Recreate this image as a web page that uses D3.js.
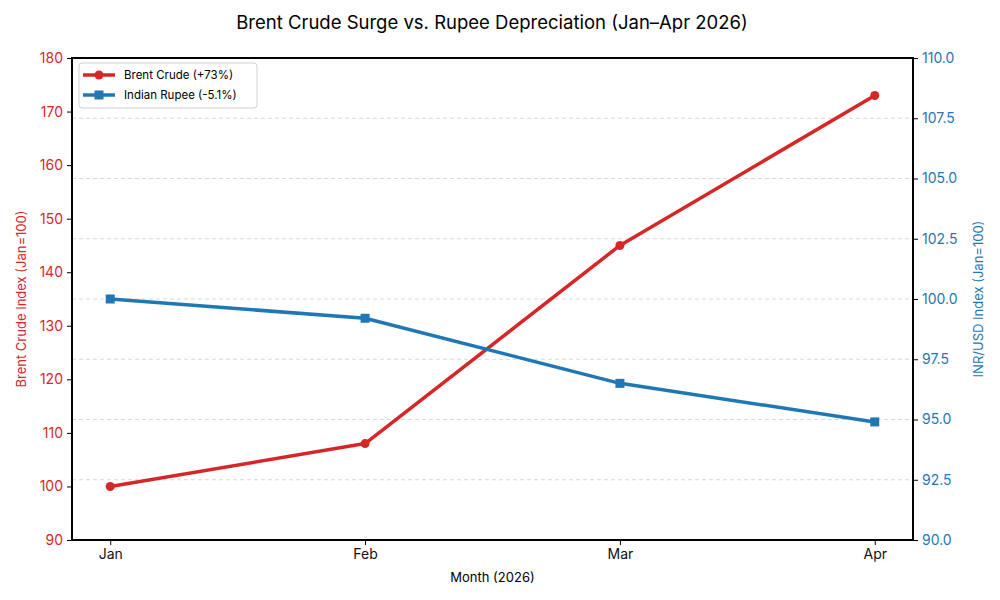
<!DOCTYPE html>
<html>
<head>
<meta charset="utf-8">
<script src="https://cdn.jsdelivr.net/npm/d3@7"></script>
<style>
	body { margin: 0; background: #fff; }
	text { font-family: Inter, 'Open Sans', sans-serif; }
</style>
</head>
<body>
<div id="chart"></div>
<script>
var months = ['Jan', 'Feb', 'Mar', 'Apr'];
var brentValues = [100, 108, 145, 173];
var rupeeValues = [100, 99.2, 96.5, 94.9];
var leftTicks = [90, 100, 110, 120, 130, 140, 150, 160, 170, 180];
var rightTicks = [90, 92.5, 95, 97.5, 100, 102.5, 105, 107.5, 110];
var seriesNames = ['Brent Crude (+73%)', 'Indian Rupee (-5.1%)'];

var width = 1000;
var height = 600;
var margin = { top: 58, right: 87, bottom: 60, left: 72 };
var red = '#d62728';
var blue = '#1f77b4';

var svg = d3.select('#chart')
	.append('svg')
	.attr('width', width)
	.attr('height', height);

var plotW = width - margin.left - margin.right;
var plotH = height - margin.top - margin.bottom;

var xScale = d3.scaleLinear()
	.domain([-0.15, months.length - 1 + 0.15])
	.range([margin.left, margin.left + plotW]);
var yLeft = d3.scaleLinear()
	.domain([90, 180])
	.range([margin.top + plotH, margin.top]);
var yRight = d3.scaleLinear()
	.domain([90, 110])
	.range([margin.top + plotH, margin.top]);

// grid lines follow the right axis ticks
svg.append('g').classed('grid', true)
	.selectAll('line')
	.data(rightTicks.slice(1, -1))
	.enter().append('line')
	.attr('x1', margin.left)
	.attr('x2', margin.left + plotW)
	.attr('y1', function(d) { return yRight(d); })
	.attr('y2', function(d) { return yRight(d); })
	.attr('stroke', '#cfcfcf')
	.attr('stroke-width', 0.8)
	.attr('stroke-dasharray', '4,3');

// axes
var xAxis = svg.append('g')
	.attr('transform', 'translate(0,' + (margin.top + plotH) + ')')
	.call(d3.axisBottom(xScale)
		.tickValues(d3.range(months.length))
		.tickFormat(function(d) { return months[d]; })
		.tickSizeOuter(0)
		.tickSize(5)
		.tickPadding(4));
xAxis.selectAll('text').attr('font-size', 14).attr('fill', '#111');

var leftAxis = svg.append('g')
	.attr('transform', 'translate(' + margin.left + ',0)')
	.call(d3.axisLeft(yLeft)
		.tickValues(leftTicks)
		.tickSizeOuter(0)
		.tickSize(5)
		.tickPadding(4));
leftAxis.selectAll('text').attr('font-size', 14).attr('fill', red);

var rightAxis = svg.append('g')
	.attr('transform', 'translate(' + (margin.left + plotW) + ',0)')
	.call(d3.axisRight(yRight)
		.tickValues(rightTicks)
		.tickFormat(d3.format('.1f'))
		.tickSizeOuter(0)
		.tickSize(5)
		.tickPadding(4));
rightAxis.selectAll('text').attr('font-size', 14).attr('fill', blue);

svg.selectAll('.domain').remove();
svg.selectAll('.tick line').attr('stroke', '#000').attr('stroke-width', 1);

// frame
svg.append('rect')
	.attr('x', margin.left)
	.attr('y', margin.top)
	.attr('width', plotW)
	.attr('height', plotH)
	.attr('fill', 'none')
	.attr('stroke', '#000')
	.attr('stroke-width', 1.1)
	.attr('shape-rendering', 'crispEdges');

// lines
var brentLine = d3.line()
	.x(function(d, i) { return xScale(i); })
	.y(function(d) { return yLeft(d); });
var rupeeLine = d3.line()
	.x(function(d, i) { return xScale(i); })
	.y(function(d) { return yRight(d); });

svg.append('path')
	.datum(brentValues)
	.attr('d', brentLine)
	.attr('fill', 'none')
	.attr('stroke', red)
	.attr('stroke-width', 3.5)
	.attr('stroke-linejoin', 'round');
svg.append('g').selectAll('circle')
	.data(brentValues)
	.enter().append('circle')
	.attr('cx', function(d, i) { return xScale(i); })
	.attr('cy', function(d) { return yLeft(d); })
	.attr('r', 4.5)
	.attr('fill', red);

svg.append('path')
	.datum(rupeeValues)
	.attr('d', rupeeLine)
	.attr('fill', 'none')
	.attr('stroke', blue)
	.attr('stroke-width', 3.5)
	.attr('stroke-linejoin', 'round');
svg.append('g').selectAll('rect')
	.data(rupeeValues)
	.enter().append('rect')
	.attr('x', function(d, i) { return xScale(i) - 4.5; })
	.attr('y', function(d) { return yRight(d) - 4.5; })
	.attr('width', 9)
	.attr('height', 9)
	.attr('fill', blue);

// title and axis labels
svg.append('text')
	.attr('x', 492)
	.attr('y', 29)
	.attr('text-anchor', 'middle')
	.attr('font-size', 18.5)
	.attr('fill', '#000')
	.text('Brent Crude Surge vs. Rupee Depreciation (Jan\u2013Apr 2026)');

svg.append('text')
	.attr('x', margin.left + plotW / 2)
	.attr('y', 582)
	.attr('text-anchor', 'middle')
	.attr('font-size', 13)
	.attr('fill', '#000')
	.text('Month (2026)');

svg.append('text')
	.attr('transform', 'translate(26,' + (margin.top + plotH / 2) + ') rotate(-90)')
	.attr('text-anchor', 'middle')
	.attr('font-size', 13)
	.attr('fill', red)
	.text('Brent Crude Index (Jan=100)');

svg.append('text')
	.attr('transform', 'translate(983,' + (margin.top + plotH / 2) + ') rotate(-90)')
	.attr('text-anchor', 'middle')
	.attr('font-size', 13)
	.attr('fill', blue)
	.text('INR/USD Index (Jan=100)');

// legend
var legend = svg.append('g').attr('transform', 'translate(79,63)');
legend.append('rect')
	.attr('width', 178)
	.attr('height', 45)
	.attr('rx', 3)
	.attr('fill', '#fff')
	.attr('fill-opacity', 0.8)
	.attr('stroke', '#d0d0d0');

var legendColors = [red, blue];
var items = legend.selectAll('g.item')
	.data(seriesNames)
	.enter().append('g').classed('item', true)
	.attr('transform', function(d, i) { return 'translate(0,' + (12 + i * 20) + ')'; });
items.append('line')
	.attr('x1', 4)
	.attr('x2', 36)
	.attr('stroke', function(d, i) { return legendColors[i]; })
	.attr('stroke-width', 3.5);
items.filter(function(d, i) { return i === 0; })
	.append('circle')
	.attr('cx', 20)
	.attr('r', 4.5)
	.attr('fill', red);
items.filter(function(d, i) { return i === 1; })
	.append('rect')
	.attr('x', 15.5)
	.attr('y', -4.5)
	.attr('width', 9)
	.attr('height', 9)
	.attr('fill', blue);
items.append('text')
	.attr('x', 45)
	.attr('dy', '0.35em')
	.attr('font-size', 11.5)
	.attr('fill', '#000')
	.text(function(d) { return d; });
</script>
</body>
</html>
